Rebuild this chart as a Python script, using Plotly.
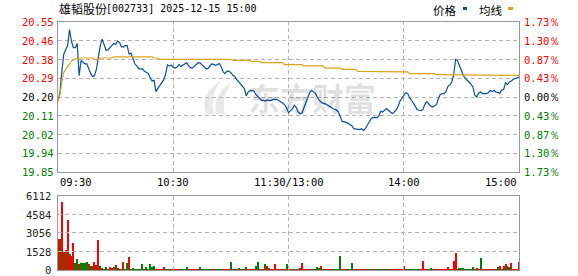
import plotly.graph_objects as go

# ---------------- data ----------------
prev_close = 20.20

price = [
    20.18, 20.22, 20.32, 20.40, 20.42, 20.44, 20.515, 20.46, 20.43, 20.43,
    20.45, 20.30, 20.37, 20.36, 20.355, 20.355, 20.33, 20.31, 20.295, 20.30,
    20.33, 20.38, 20.44, 20.47, 20.44, 20.418, 20.42, 20.43, 20.445, 20.45,
    20.445, 20.46, 20.455, 20.435, 20.433, 20.44, 20.44, 20.40, 20.405, 20.38,
    20.355, 20.345, 20.332, 20.33, 20.332, 20.32, 20.315, 20.31, 20.29, 20.275,
    20.278, 20.225, 20.24, 20.252, 20.265, 20.28, 20.305, 20.35, 20.345, 20.348,
    20.338, 20.335, 20.34, 20.352, 20.342, 20.348, 20.356, 20.36, 20.345, 20.337,
    20.335, 20.345, 20.352, 20.36, 20.358, 20.35, 20.342, 20.332, 20.332, 20.345,
    20.354, 20.352, 20.348, 20.351, 20.356, 20.34, 20.317, 20.309, 20.321, 20.32,
    20.314, 20.301, 20.296, 20.282, 20.27, 20.262, 20.251, 20.239, 20.205, 20.223,
    20.231, 20.228, 20.228, 20.212, 20.202, 20.191, 20.184, 20.184, 20.181, 20.186,
    20.183, 20.184, 20.189, 20.189, 20.189, 20.183, 20.178, 20.172, 20.163, 20.15,
    20.127, 20.138, 20.144, 20.161, 20.152, 20.13, 20.122, 20.125, 20.147, 20.174,
    20.198, 20.22, 20.231, 20.223, 20.217, 20.2, 20.184, 20.177, 20.17, 20.169,
    20.164, 20.161, 20.153, 20.146, 20.142, 20.139, 20.13, 20.111, 20.085, 20.085,
    20.082, 20.077, 20.071, 20.066, 20.052, 20.051, 20.048, 20.048, 20.052, 20.044,
    20.052, 20.068, 20.085, 20.099, 20.104, 20.104, 20.104, 20.111, 20.133, 20.13,
    20.139, 20.146, 20.138, 20.13, 20.122, 20.13, 20.139, 20.155, 20.18, 20.194,
    20.208, 20.22, 20.217, 20.197, 20.186, 20.17, 20.152, 20.142, 20.138, 20.136,
    20.142, 20.167, 20.178, 20.167, 20.158, 20.153, 20.16, 20.164, 20.192, 20.212,
    20.216, 20.216, 20.226, 20.25, 20.256, 20.27, 20.304, 20.375, 20.37, 20.343,
    20.324, 20.30, 20.286, 20.278, 20.27, 20.261, 20.248, 20.208, 20.20, 20.219,
    20.223, 20.216, 20.216, 20.216, 20.22, 20.23, 20.225, 20.231, 20.223, 20.222,
    20.217, 20.233, 20.234, 20.267, 20.258, 20.27, 20.275, 20.283, 20.286, 20.289,
    20.293,
]

avg_price = [
    20.18, 20.21, 20.27, 20.315, 20.33, 20.34, 20.355, 20.368, 20.374, 20.378,
    20.382, 20.382, 20.382, 20.382, 20.382, 20.382, 20.382, 20.382, 20.382, 20.376,
    20.373, 20.376, 20.382, 20.382, 20.382, 20.382, 20.382, 20.382, 20.382, 20.387,
    20.387, 20.387, 20.387, 20.387, 20.387, 20.387, 20.387, 20.387, 20.387, 20.387,
    20.387, 20.387, 20.387, 20.387, 20.387, 20.387, 20.387, 20.387, 20.387, 20.387,
    20.382, 20.382, 20.382, 20.376, 20.376, 20.376, 20.376, 20.376, 20.376, 20.376,
    20.376, 20.376, 20.376, 20.376, 20.376, 20.376, 20.376, 20.376, 20.376, 20.376,
    20.376, 20.376, 20.376, 20.376, 20.376, 20.376, 20.376, 20.376, 20.376, 20.376,
    20.376, 20.376, 20.376, 20.376, 20.376, 20.376, 20.376, 20.376, 20.376, 20.376,
    20.376, 20.371, 20.371, 20.371, 20.371, 20.371, 20.371, 20.371, 20.371, 20.371,
    20.371, 20.366, 20.366, 20.366, 20.366, 20.366, 20.36, 20.36, 20.36, 20.36,
    20.36, 20.36, 20.36, 20.36, 20.36, 20.36, 20.36, 20.36, 20.351, 20.351,
    20.351, 20.351, 20.351, 20.351, 20.351, 20.351, 20.351, 20.351, 20.345, 20.345,
    20.345, 20.345, 20.345, 20.345, 20.345, 20.345, 20.345, 20.345, 20.345, 20.335,
    20.335, 20.335, 20.335, 20.335, 20.335, 20.335, 20.335, 20.335, 20.329, 20.329,
    20.329, 20.329, 20.329, 20.329, 20.329, 20.329, 20.32, 20.32, 20.32, 20.32,
    20.32, 20.32, 20.32, 20.32, 20.32, 20.32, 20.317, 20.317, 20.317, 20.317,
    20.317, 20.317, 20.317, 20.317, 20.317, 20.317, 20.317, 20.317, 20.317, 20.317,
    20.317, 20.317, 20.317, 20.309, 20.309, 20.309, 20.309, 20.309, 20.309, 20.309,
    20.309, 20.309, 20.309, 20.309, 20.309, 20.309, 20.309, 20.304, 20.304, 20.304,
    20.304, 20.304, 20.304, 20.304, 20.304, 20.304, 20.304, 20.304, 20.304, 20.304,
    20.304, 20.304, 20.304, 20.304, 20.304, 20.304, 20.304, 20.304, 20.304, 20.304,
    20.304, 20.304, 20.304, 20.304, 20.301, 20.301, 20.301, 20.301, 20.301, 20.301,
    20.301, 20.301, 20.301, 20.301, 20.301, 20.301, 20.301, 20.301, 20.301, 20.301,
    20.301,
]

volume = [
    2557, 2557, 5610, 1512, 1650, 4125, 1320, 1182, 2227, 577,
    907, 495, 577, 577, 577, 660, 495, 357, 357, 660,
    412, 2475, 357, 165, 82, 220, 82, 247, 165, 220,
    412, 165, 82, 82, 660, 82, 577, 1072, 82, 165,
    82, 82, 82, 82, 495, 82, 220, 82, 495, 247,
    330, 82, 82, 82, 82, 247, 82, 82, 82, 82,
    82, 82, 82, 82, 82, 82, 82, 247, 82, 82,
    82, 82, 82, 82, 247, 82, 82, 82, 82, 82,
    82, 82, 82, 82, 82, 82, 82, 82, 82, 82,
    660, 82, 82, 82, 165, 82, 82, 82, 247, 82,
    82, 82, 82, 330, 660, 82, 82, 82, 495, 330,
    165, 82, 82, 495, 82, 82, 82, 82, 82, 495,
    165, 82, 82, 82, 82, 82, 165, 577, 82, 82,
    82, 82, 82, 82, 82, 247, 165, 330, 82, 82,
    82, 82, 82, 82, 82, 82, 82, 1155, 82, 82,
    82, 82, 82, 577, 82, 82, 82, 82, 82, 82,
    82, 82, 82, 82, 82, 82, 82, 82, 82, 82,
    82, 82, 82, 82, 82, 82, 82, 82, 82, 82,
    330, 82, 82, 82, 82, 82, 82, 82, 82, 82,
    742, 82, 82, 82, 165, 82, 82, 82, 82, 82,
    82, 82, 82, 247, 82, 82, 742, 1402, 82, 165,
    165, 165, 82, 82, 82, 82, 247, 82, 165, 82,
    990, 82, 82, 82, 82, 82, 82, 82, 82, 247,
    330, 82, 330, 495, 330, 247, 577, 82, 82, 82,
    660,
]

# R = up (red) bar, G = down (green) bar
volume_dir = (
    "GRRGRRGRRG" "GRGGGGRGGR" "RRGRGGGRRG" "RGRGRGGRGG" "GGGGGRGGGG"
    "GRRRRRGGGR" "RRRRGGGGGR" "RRRRGGGGGG" "RRGGGGRRRR" "GGRRGGGRGR"
    "RRRGGRRGGR" "RGRRRRGRRG" "GRRGGGRRRR" "RRGGGGGRGG" "RRRGGGGGGR"
    "RGGGRRGRRR" "RGGRRGGGGR" "GGGRRRRRRR" "RGGGGGGGGR" "RRRGGRGRRR"
    "RRRRRRRRRG" "GGGGGGGGRR" "GRRRRRRRGG" "RGRRGGRRRR" "R"
)

price_ticks = [20.55, 20.4625, 20.375, 20.2875, 20.20, 20.1125, 20.025, 19.9375, 19.85]
price_tick_text = ["20.55", "20.46", "20.38", "20.29", "20.20", "20.11", "20.02", "19.94", "19.85"]
pct_tick_text = ["1.73％", "1.30％", "0.87％", "0.43％", "0.00％", "0.43％", "0.87％", "1.30％", "1.73％"]
vol_ticks = [0, 1528, 3056, 4584, 6112]
vol_tick_text = ["0", "1528", "3056", "4584", "6112"]
time_pos = [0, 60, 120, 180, 240]
time_text = ["09:30", "10:30", "11:30/13:00", "14:00", "15:00"]
title_name = "雄韬股份"
title_rest = "[002733] 2025-12-15 15:00"
legend_names = ["价格", "均线"]
watermark = "东方财富"

# ---------------- styling ----------------
W, H = 578, 276
PL, PR, PT, PB = 58, 519, 22, 270
PRICE_BOTTOM_PX = 172
VOL_TOP_PX = 196
RED, GREEN, BLACK = "#ff0000", "#008000", "#000000"
BLUE_LINE, GOLD_LINE = "#0b4ea2", "#dda31f"
GRID = "#b4b4b4"
BORDER = "#999999"
MONO = "DejaVu Sans Mono"
CJK = "Noto Sans CJK SC"
WM = "rgba(0,0,0,0.12)"
DASH_ON, DASH_OFF = 4, 3  # px


def px_x(p):
    return (p - PL) / (PR - PL)


def px_y(p):
    return (PB - p) / (PB - PT)


minutes = list(range(len(price)))
x_min, x_max = time_pos[0], time_pos[-1]
x_per_px = (x_max - x_min) / (PR - PL)
price_per_px = (price_ticks[0] - price_ticks[-1]) / (PRICE_BOTTOM_PX - PT)
vol_per_px = (vol_ticks[-1] - vol_ticks[0]) / (PB - VOL_TOP_PX)


def snap(value, top_value, per_px, reverse=False):
    """Move a gridline to the centre of the nearest pixel row/column (crisp 1px line)."""
    offset = (top_value - value) / per_px if not reverse else (value - top_value) / per_px
    crisp = round(offset - 0.5) + 0.5
    return top_value - crisp * per_px if not reverse else top_value + crisp * per_px


def dashed(fixed, lo, hi, per_px, horizontal):
    a_list, b_list = [], []
    total_px = (hi - lo) / per_px
    p = 0.0
    while p < total_px:
        s = lo + p * per_px
        e = lo + min(p + DASH_ON, total_px) * per_px
        a_list += [s, e, None]
        b_list += [fixed, fixed, None]
        p += DASH_ON + DASH_OFF
    return (a_list, b_list) if horizontal else (b_list, a_list)


fig = go.Figure()

gx, gy = [], []
for v in price_ticks[1:-1]:
    a, b = dashed(snap(v, price_ticks[0], price_per_px), x_min, x_max, x_per_px, True)
    gx += a; gy += b
for t in time_pos[1:-1]:
    a, b = dashed(snap(t, x_min, x_per_px, reverse=True), price_ticks[-1], price_ticks[0],
                  price_per_px, False)
    gx += a; gy += b
fig.add_trace(go.Scatter(x=gx, y=gy, mode="lines", line=dict(color=GRID, width=1),
                         xaxis="x", yaxis="y", hoverinfo="skip", connectgaps=False))
vx, vy = [], []
for v in vol_ticks[1:-1]:
    a, b = dashed(snap(v, vol_ticks[-1], vol_per_px), x_min, x_max, x_per_px, True)
    vx += a; vy += b
for t in time_pos[1:-1]:
    a, b = dashed(snap(t, x_min, x_per_px, reverse=True), vol_ticks[0], vol_ticks[-1],
                  vol_per_px, False)
    vx += a; vy += b
fig.add_trace(go.Scatter(x=vx, y=vy, mode="lines", line=dict(color=GRID, width=1),
                         xaxis="x2", yaxis="y2", hoverinfo="skip", connectgaps=False))

fig.add_trace(go.Scatter(x=minutes, y=price, mode="lines",
                         line=dict(color=BLUE_LINE, width=1.2),
                         xaxis="x", yaxis="y", hoverinfo="skip"))
fig.add_trace(go.Scatter(x=minutes, y=avg_price, mode="lines",
                         line=dict(color=GOLD_LINE, width=1.2),
                         xaxis="x", yaxis="y", hoverinfo="skip"))
fig.add_trace(go.Bar(x=minutes, y=volume, width=0.55,
                     marker=dict(color=[RED if d == "R" else GREEN for d in volume_dir],
                                 line=dict(width=0)),
                     xaxis="x2", yaxis="y2", hoverinfo="skip"))

axis_common = dict(showline=True, mirror=True, linecolor=BORDER, linewidth=1,
                   showticklabels=False, ticks="", zeroline=False, showgrid=False)

fig.update_layout(
    width=W, height=H, autosize=False,
    margin=dict(l=PL, r=W - PR, t=PT, b=H - PB, pad=0),
    paper_bgcolor="white", plot_bgcolor="white",
    showlegend=False,
    xaxis=dict(domain=[0, 1], range=[x_min, x_max], anchor="y", **axis_common),
    yaxis=dict(domain=[px_y(PRICE_BOTTOM_PX), 1], range=[price_ticks[-1], price_ticks[0]],
               anchor="x", **axis_common),
    xaxis2=dict(domain=[0, 1], range=[x_min, x_max], anchor="y2", **axis_common),
    yaxis2=dict(domain=[0, px_y(VOL_TOP_PX)], range=[vol_ticks[0], vol_ticks[-1]],
                anchor="x2", **axis_common),
    bargap=0,
)

shapes = []


def wpath(pts):
    s = "M {:.4f},{:.4f}".format(px_x(pts[0][0]), px_y(pts[0][1]))
    for i in range(1, len(pts) - 1, 2):
        s += " Q {:.4f},{:.4f} {:.4f},{:.4f}".format(px_x(pts[i][0]), px_y(pts[i][1]),
                                                     px_x(pts[i + 1][0]), px_y(pts[i + 1][1]))
    return s + " Z"


logo_swooshes = [
    [(206, 114), (200, 92), (222, 80), (209, 94), (214, 114)],
    [(216, 114), (212, 94), (232, 82), (221, 96), (225, 114)],
]
for sw in logo_swooshes:
    shapes.append(dict(type="path", xref="paper", yref="paper", path=wpath(sw),
                       fillcolor="rgba(0,0,0,0.09)", line=dict(width=0), layer="below"))

shapes.append(dict(type="rect", xref="paper", yref="paper",
                   x0=px_x(463), x1=px_x(467), y0=px_y(10), y1=px_y(7),
                   fillcolor=BLUE_LINE, line=dict(width=0)))
shapes.append(dict(type="rect", xref="paper", yref="paper",
                   x0=px_x(508), x1=px_x(513), y0=px_y(10), y1=px_y(7),
                   fillcolor=GOLD_LINE, line=dict(width=0)))
fig.update_layout(shapes=shapes)

ann = []
for v, t, pt in zip(price_ticks, price_tick_text, pct_tick_text):
    if abs(v - prev_close) < 1e-9:
        c = BLACK
    elif v > prev_close:
        c = RED
    else:
        c = GREEN
    ann.append(dict(x=0, xref="paper", y=v, yref="y", text=t, showarrow=False,
                    xanchor="right", yanchor="middle", xshift=-2,
                    font=dict(family=MONO, size=10.5, color=c)))
    ann.append(dict(x=1, xref="paper", y=v, yref="y", text=pt, showarrow=False,
                    xanchor="left", yanchor="middle", xshift=3,
                    font=dict(family=MONO, size=10.5, color=c)))
for v, t in zip(vol_ticks, vol_tick_text):
    ann.append(dict(x=0, xref="paper", y=v, yref="y2", text=t, showarrow=False,
                    xanchor="right", yanchor="middle", xshift=-5,
                    font=dict(family=MONO, size=10.5, color="#222222")))
for i, (p, t) in enumerate(zip(time_pos, time_text)):
    xa = "left" if i == 0 else ("right" if i == len(time_pos) - 1 else "center")
    ann.append(dict(x=p, xref="x", y=px_y(182), yref="paper", text=t, showarrow=False,
                    xanchor=xa, yanchor="middle",
                    font=dict(family=MONO, size=10.5, color=BLACK)))
ann.append(dict(x=px_x(57), xref="paper", y=px_y(9), yref="paper", text=title_name,
                showarrow=False, xanchor="left", yanchor="middle",
                font=dict(family=CJK, size=12, color=BLACK)))
ann.append(dict(x=px_x(104), xref="paper", y=px_y(9), yref="paper", text=title_rest,
                showarrow=False, xanchor="left", yanchor="middle",
                font=dict(family=MONO, size=10, color=BLACK)))
ann.append(dict(x=px_x(431), xref="paper", y=px_y(10), yref="paper", text=legend_names[0],
                showarrow=False, xanchor="left", yanchor="middle",
                font=dict(family=CJK, size=11.5, color=BLACK)))
ann.append(dict(x=px_x(477), xref="paper", y=px_y(10), yref="paper", text=legend_names[1],
                showarrow=False, xanchor="left", yanchor="middle",
                font=dict(family=CJK, size=11.5, color=BLACK)))
ann.append(dict(x=px_x(312), xref="paper", y=px_y(97), yref="paper", text="<b>" + watermark + "</b>",
                showarrow=False, xanchor="center", yanchor="middle",
                font=dict(family=CJK, size=32, color=WM)))
fig.update_layout(annotations=ann)

fig.write_html("out.html", config={"displayModeBar": False})
